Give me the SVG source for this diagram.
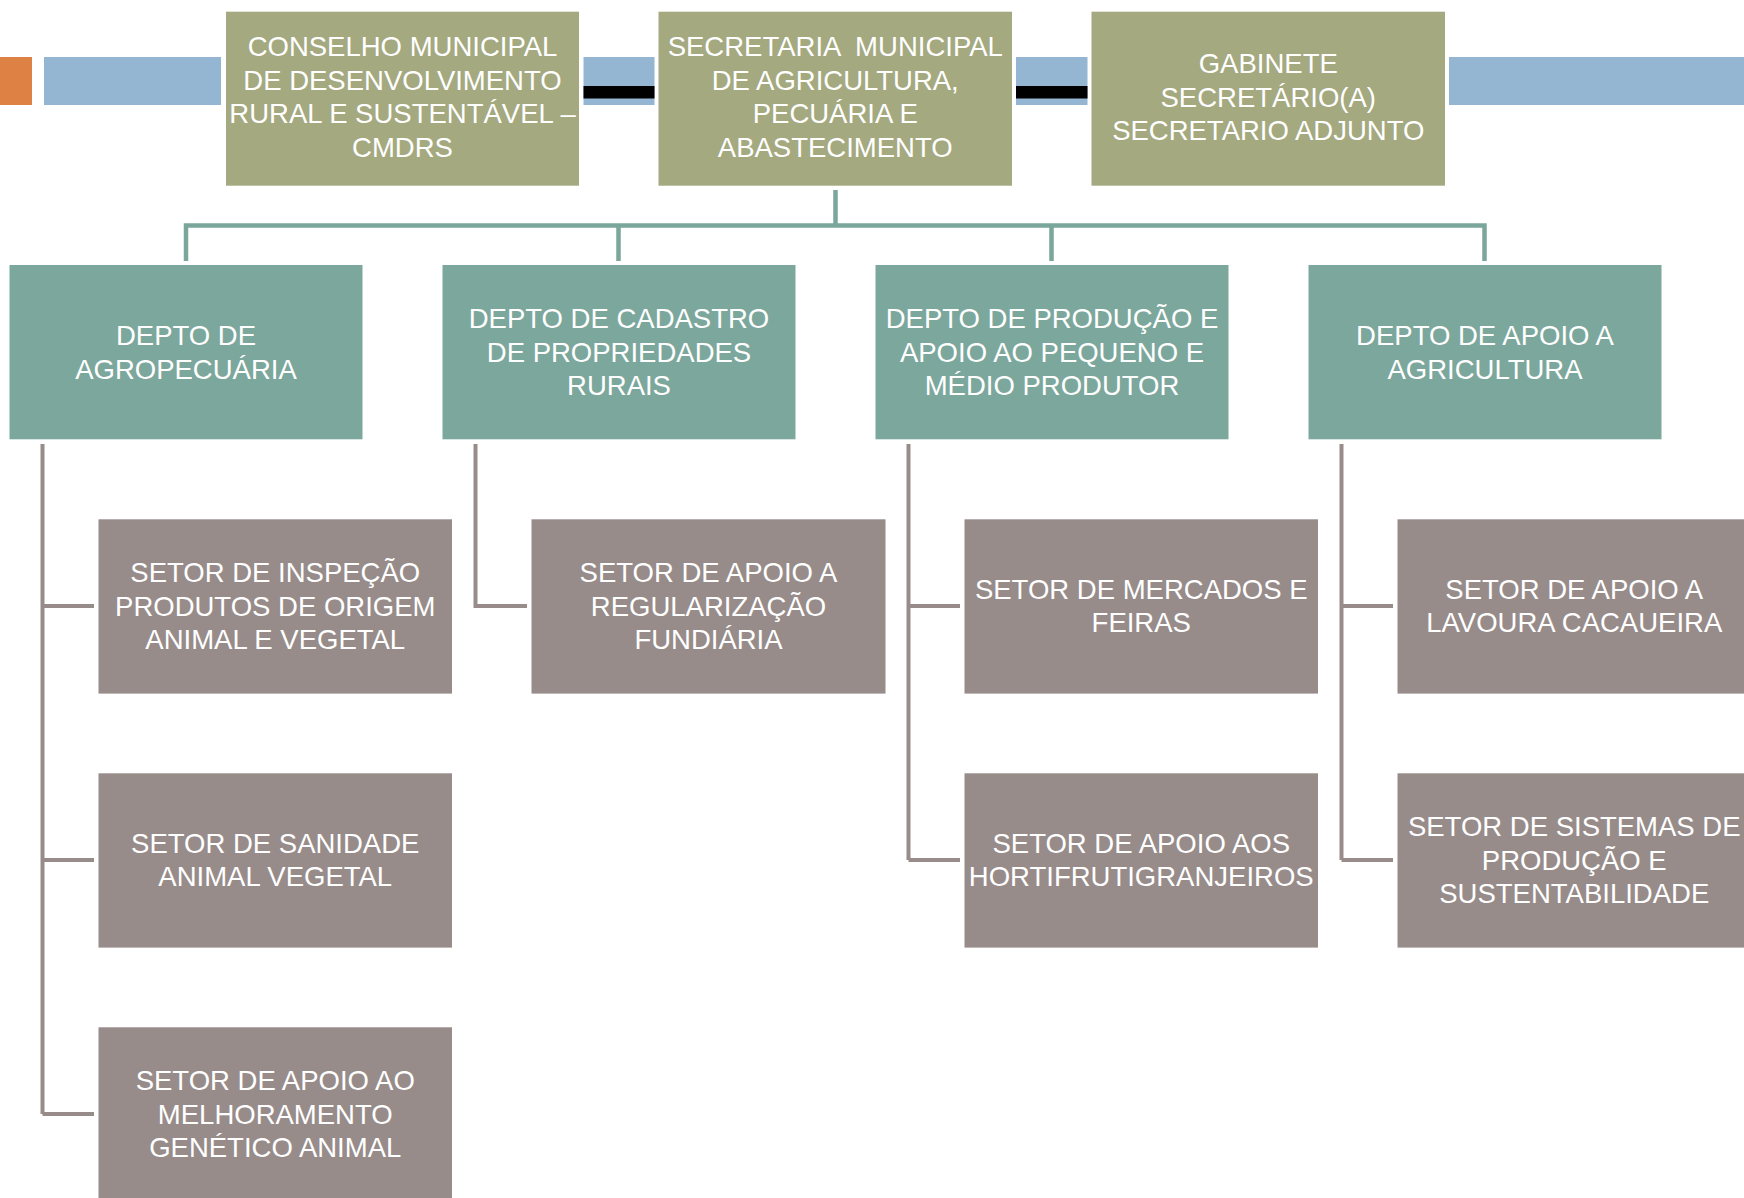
<svg xmlns="http://www.w3.org/2000/svg" width="1744" height="1198" viewBox="0 0 1744 1198">
<style>
.olive{fill:#A4A97F}
.teal{fill:#7CA79C}
.gray{fill:#978C8A}
.bar{fill:#94B6D2}
.t{font-family:"Liberation Sans",Arial,sans-serif;font-size:27.5px;fill:#FFFFFF;text-anchor:middle}
.tc{stroke:#7AA69B;stroke-width:4.5;fill:none}
.gc{stroke:#978C8A;stroke-width:4;fill:none}
</style>
<rect width="1744" height="1198" fill="#FFFFFF"/>
<g id="decor">
<rect x="0" y="57" width="32" height="48" fill="#DE8145"/>
<rect class="bar" x="44" y="57" width="177" height="48"/>
<rect class="bar" x="583.5" y="57" width="71" height="48"/>
<rect x="583.5" y="86" width="71" height="12.5" fill="#000000"/>
<rect class="bar" x="1016" y="57" width="71.5" height="48"/>
<rect x="1016" y="86" width="71.5" height="12.5" fill="#000000"/>
<rect class="bar" x="1449" y="57" width="295" height="48"/>
</g>
<g id="connectors">
<path class="tc" d="M835.5 190 V225.5 M186 261 V225.5 H1484.5 V261 M618.5 225.5 V261 M1051.5 225.5 V261"/>
<path class="gc" d="M42.5 444 V1114 M42.5 606 H94 M42.5 860 H94 M42.5 1114 H94"/>
<path class="gc" d="M475.5 444 V606 H527"/>
<path class="gc" d="M908.5 444 V860 M908.5 606 H960 M908.5 860 H960"/>
<path class="gc" d="M1341.5 444 V860 M1341.5 606 H1393 M1341.5 860 H1393"/>
</g>
<g id="cmdrs">
<rect class="olive" x="226" y="11.7" width="353" height="174"/>
<text class="t" x="402.5" y="56">CONSELHO MUNICIPAL</text>
<text class="t" x="402.5" y="89.5">DE DESENVOLVIMENTO</text>
<text class="t" x="402.5" y="123">RURAL E SUSTENTÁVEL –</text>
<text class="t" x="402.5" y="156.5">CMDRS</text>
</g>
<g id="secretaria">
<rect class="olive" x="658.5" y="11.7" width="353.5" height="174"/>
<text class="t" x="835.25" y="56" xml:space="preserve">SECRETARIA  MUNICIPAL</text>
<text class="t" x="835.25" y="89.5">DE AGRICULTURA,</text>
<text class="t" x="835.25" y="123">PECUÁRIA E</text>
<text class="t" x="835.25" y="156.5">ABASTECIMENTO</text>
</g>
<g id="gabinete">
<rect class="olive" x="1091.5" y="11.7" width="353.5" height="174"/>
<text class="t" x="1268.25" y="73">GABINETE</text>
<text class="t" x="1268.25" y="106.5">SECRETÁRIO(A)</text>
<text class="t" x="1268.25" y="140">SECRETARIO ADJUNTO</text>
</g>
<g id="depto-agropecuaria">
<rect class="teal" x="9.5" y="265" width="353" height="174.3"/>
<text class="t" x="186" y="345">DEPTO DE</text>
<text class="t" x="186" y="378.5">AGROPECUÁRIA</text>
</g>
<g id="depto-cadastro">
<rect class="teal" x="442.5" y="265" width="353" height="174.3"/>
<text class="t" x="619" y="328">DEPTO DE CADASTRO</text>
<text class="t" x="619" y="361.5">DE PROPRIEDADES</text>
<text class="t" x="619" y="395">RURAIS</text>
</g>
<g id="depto-producao">
<rect class="teal" x="875.5" y="265" width="353" height="174.3"/>
<text class="t" x="1052" y="328">DEPTO DE PRODUÇÃO E</text>
<text class="t" x="1052" y="361.5">APOIO AO PEQUENO E</text>
<text class="t" x="1052" y="395">MÉDIO PRODUTOR</text>
</g>
<g id="depto-apoio-agricultura">
<rect class="teal" x="1308.5" y="265" width="353" height="174.3"/>
<text class="t" x="1485" y="345">DEPTO DE APOIO A</text>
<text class="t" x="1485" y="378.5">AGRICULTURA</text>
</g>
<g id="setor-inspecao">
<rect class="gray" x="98.5" y="519.3" width="353.5" height="174.3"/>
<text class="t" x="275.25" y="582">SETOR DE INSPEÇÃO</text>
<text class="t" x="275.25" y="615.5">PRODUTOS DE ORIGEM</text>
<text class="t" x="275.25" y="649">ANIMAL E VEGETAL</text>
</g>
<g id="setor-sanidade">
<rect class="gray" x="98.5" y="773.3" width="353.5" height="174.3"/>
<text class="t" x="275.25" y="852.5">SETOR DE SANIDADE</text>
<text class="t" x="275.25" y="886">ANIMAL VEGETAL</text>
</g>
<g id="setor-melhoramento">
<rect class="gray" x="98.5" y="1027.3" width="353.5" height="174.3"/>
<text class="t" x="275.25" y="1090">SETOR DE APOIO AO</text>
<text class="t" x="275.25" y="1123.5">MELHORAMENTO</text>
<text class="t" x="275.25" y="1157">GENÉTICO ANIMAL</text>
</g>
<g id="setor-regularizacao">
<rect class="gray" x="531.5" y="519.3" width="354" height="174.3"/>
<text class="t" x="708.5" y="582">SETOR DE APOIO A</text>
<text class="t" x="708.5" y="615.5">REGULARIZAÇÃO</text>
<text class="t" x="708.5" y="649">FUNDIÁRIA</text>
</g>
<g id="setor-mercados">
<rect class="gray" x="964.5" y="519.3" width="353.5" height="174.3"/>
<text class="t" x="1141.25" y="598.5">SETOR DE MERCADOS E</text>
<text class="t" x="1141.25" y="632">FEIRAS</text>
</g>
<g id="setor-hortifruti">
<rect class="gray" x="964.5" y="773.3" width="353.5" height="174.3"/>
<text class="t" x="1141.25" y="852.5">SETOR DE APOIO AOS</text>
<text class="t" x="1141.25" y="886">HORTIFRUTIGRANJEIROS</text>
</g>
<g id="setor-cacaueira">
<rect class="gray" x="1397.5" y="519.3" width="353.5" height="174.3"/>
<text class="t" x="1574.25" y="598.5">SETOR DE APOIO A</text>
<text class="t" x="1574.25" y="632">LAVOURA CACAUEIRA</text>
</g>
<g id="setor-sistemas">
<rect class="gray" x="1397.5" y="773.3" width="353.5" height="174.3"/>
<text class="t" x="1574.25" y="836">SETOR DE SISTEMAS DE</text>
<text class="t" x="1574.25" y="869.5">PRODUÇÃO E</text>
<text class="t" x="1574.25" y="903">SUSTENTABILIDADE</text>
</g>
</svg>
